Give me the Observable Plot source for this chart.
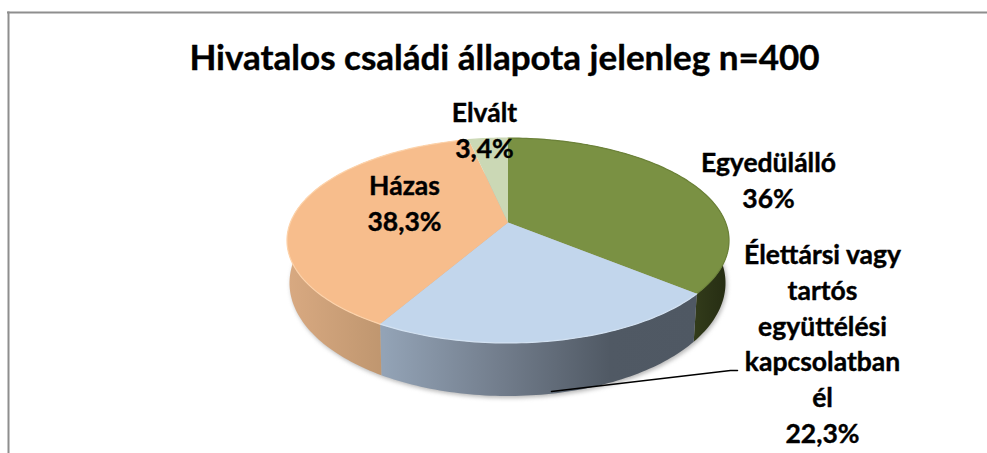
<!DOCTYPE html>
<html>
<head>
<meta charset="utf-8">
<script src="https://cdn.jsdelivr.net/npm/d3@7"></script>
<script src="https://cdn.jsdelivr.net/npm/@observablehq/plot@0.6"></script>
<style>
html,body{margin:0;padding:0;background:#fff}
svg{display:block}
</style>
</head>
<body>
<div id="chart"></div>
<script>
// Data
const titleText = "Hivatalos családi állapota jelenleg n=400";
const categories = ["Egyedülálló", "Élettársi vagy tartós együttélési kapcsolatban él", "Házas", "Elvált"];
const shares = [36, 22.3, 38.3, 3.4];
const valueLabels = ["36%", "22,3%", "38,3%", "3,4%"];
const labelLines = [
  ["Egyedülálló", "36%"],
  ["Élettársi vagy", "tartós", "együttélési", "kapcsolatban", "él", "22,3%"],
  ["Házas", "38,3%"],
  ["Elvált", "3,4%"]
];

// Layout and style
const W = 987, H = 453;
const topColors = ["#7a9143", "#c2d6ec", "#f7bd8c", "#cbd8b5"];
const rimColors = ["#6c8239", "#d3e2f2", "#fdd3ab", "#cbd8b5"];
const wallFills = ["url(#wall0)", "url(#wall1)", "url(#wall2)", "none"];
const labelPos = [[768, 163], [822, 255], [404, 186], [484, 113]];
const lineGap = 35.8;
const fontSize = 26.5;
const font = "Lato, Carlito, sans-serif";

// Perspective view of a circular disc: top face and bottom face
const topFace = {cx: 507.5, apexY: 222, R: 217.6, S: 99.3, p: 0.1756};
const botFace = {cx: 507, cy: 282.5, rx: 218, ry: 113};
const topRx = topFace.R / Math.sqrt(1 - topFace.p ** 2);
const topRy = topFace.S / (1 - topFace.p ** 2);
const topCy = topFace.apexY + topFace.S * topFace.p / (1 - topFace.p ** 2);
function rim(a) {
  const u = Math.sin(a), v = -Math.cos(a), d = 1 - topFace.p * v;
  return [topFace.cx + topFace.R * u / d, topFace.apexY + topFace.S * v / d];
}
function rimBottom(a) {
  const [x, y] = rim(a);
  return [botFace.cx + botFace.rx * (x - topFace.cx) / topRx, botFace.cy + botFace.ry * (y - topCy) / topRy];
}

// Slices from the values
const total = d3.sum(shares);
const arcs = [];
let acc = 0;
shares.forEach((s, i) => {
  arcs.push({i, a0: acc / total * 2 * Math.PI, a1: (acc + s) / total * 2 * Math.PI});
  acc += s;
});
const sweep = ({a0, a1}) => {
  const n = Math.max(2, Math.ceil((a1 - a0) / 0.02));
  return d3.range(n + 1).map(k => a0 + (a1 - a0) * k / n);
};
const topPts = [], wallPts = [], rimPts = [], shadowPts = [];
for (const arc of arcs) {
  const as = sweep(arc);
  topPts.push({i: arc.i, x: topFace.cx, y: topFace.apexY});
  for (const a of as) {
    const [x, y] = rim(a);
    topPts.push({i: arc.i, x, y});
    rimPts.push({i: arc.i, x, y});
  }
  if (arc.i < 3) {
    for (const a of as) { const [x, y] = rim(a); wallPts.push({i: arc.i, x, y}); }
    for (const a of as.slice().reverse()) { const [x, y] = rimBottom(a); wallPts.push({i: arc.i, x, y}); }
    for (const a of as) { const [x, y] = rimBottom(a); shadowPts.push({x: x + 1.5, y: y + 2}); }
  }
}
const labelRows = labelLines.flatMap((lines, i) =>
  lines.map((t, k) => ({t, x: labelPos[i][0], y: labelPos[i][1] + k * lineGap})));
const leader = [{x: 551, y: 391}, {x: 730, y: 370}, {x: 737, y: 370}];

function defs() {
  const ns = "http://www.w3.org/2000/svg";
  const d = document.createElementNS(ns, "defs");
  const grads = {
    wall0: [[692, "#333c1b"], [728, "#252c12"]],
    wall1: [[383, "#93a3b6"], [500, "#727d8c"], [610, "#505964"], [695, "#4f5863"]],
    wall2: [[288, "#d8a981"], [383, "#bf966f"]]
  };
  for (const [id, stops] of Object.entries(grads)) {
    const g = document.createElementNS(ns, "linearGradient");
    g.setAttribute("id", id);
    g.setAttribute("gradientUnits", "userSpaceOnUse");
    g.setAttribute("x1", stops[0][0]); g.setAttribute("x2", stops[stops.length - 1][0]);
    g.setAttribute("y1", 0); g.setAttribute("y2", 0);
    const x0 = stops[0][0], x1 = stops[stops.length - 1][0];
    for (const [x, c] of stops) {
      const s = document.createElementNS(ns, "stop");
      s.setAttribute("offset", (x - x0) / (x1 - x0));
      s.setAttribute("stop-color", c);
      g.appendChild(s);
    }
    d.appendChild(g);
  }
  return d;
}

const plot = Plot.plot({
  width: W, height: H, margin: 0,
  x: {domain: [0, W], range: [0, W], axis: null},
  y: {domain: [0, H], range: [0, H], axis: null},
  style: {background: "#fff", fontFamily: font},
  marks: [
    defs,
    Plot.ruleX([8], {y1: 11.5, y2: H, stroke: "#8e8e8e", strokeWidth: 2}),
    Plot.ruleY([12], {x1: 7, x2: W, stroke: "#8e8e8e", strokeWidth: 2}),
    Plot.line(shadowPts, {x: "x", y: "y", fill: "#999", stroke: "none", opacity: 0.7, imageFilter: "blur(2px)"}),
    Plot.line(wallPts, {x: "x", y: "y", z: "i", fill: d => wallFills[d.i], stroke: "none", imageFilter: "blur(0.4px)"}),
    Plot.line(topPts, {x: "x", y: "y", z: "i", fill: d => topColors[d.i], stroke: "none", imageFilter: "blur(0.4px)"}),
    Plot.line(rimPts, {x: "x", y: "y", z: "i", stroke: d => rimColors[d.i], strokeWidth: 1.2, imageFilter: "blur(0.4px)"}),
    Plot.line(leader, {x: "x", y: "y", stroke: "#000", strokeWidth: 1.5}),
    Plot.text([titleText], {x: () => 504, y: () => 58, text: d => d, fontSize: 35, fontWeight: 700, fill: "#000", stroke: "#000", strokeWidth: 0.4, fontFamily: font}),
    Plot.text(labelRows, {x: "x", y: "y", text: "t", fontSize, fontWeight: 700, fill: "#000", stroke: "#000", strokeWidth: 0.4, fontFamily: font})
  ]
});
document.getElementById("chart").appendChild(plot);
</script>
</body>
</html>
